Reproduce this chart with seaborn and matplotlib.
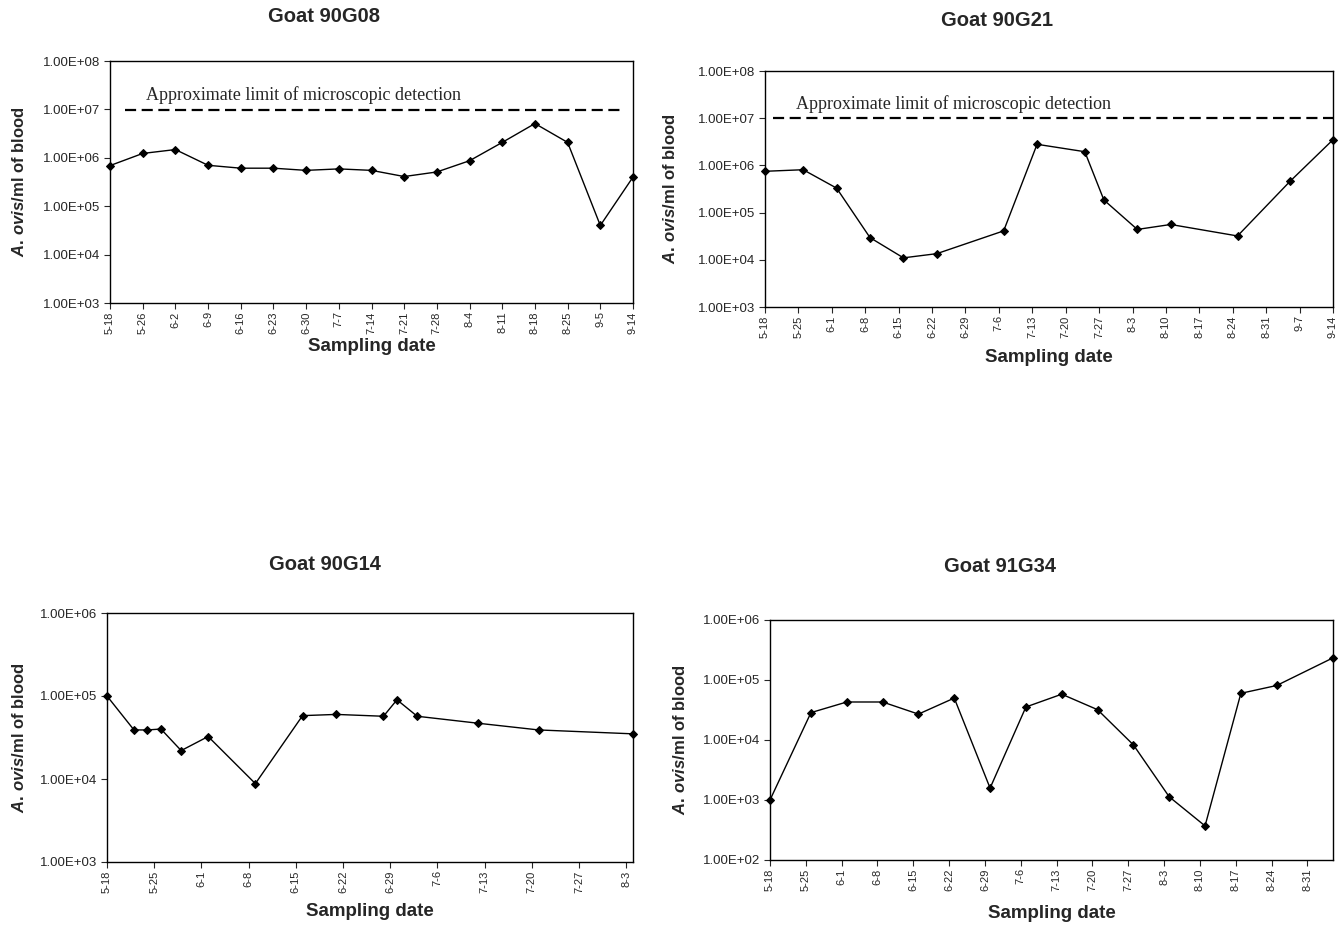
import numpy as np
import pandas as pd
import matplotlib
matplotlib.use("Agg")
import matplotlib.pyplot as plt
from matplotlib.ticker import FuncFormatter, NullLocator
import seaborn as sns

# data
# Goat 90G08 (evenly spaced categories)
g08_dates = ["5-18", "5-26", "6-2", "6-9", "6-16", "6-23", "6-30", "7-7", "7-14",
             "7-21", "7-28", "8-4", "8-11", "8-18", "8-25", "9-5", "9-14"]
g08_vals = [6.9e5, 1.23e6, 1.48e6, 7.0e5, 6.1e5, 6.1e5, 5.5e5, 5.9e5, 5.5e5,
            4.1e5, 5.1e5, 8.7e5, 2.08e6, 5.1e6, 2.08e6, 4.0e4, 4.0e5]

# Goat 90G21 (date axis)
g21_dates = ["5-18", "5-26", "6-2", "6-9", "6-16", "6-23", "7-7", "7-14", "7-24",
             "7-28", "8-4", "8-11", "8-25", "9-5", "9-14"]
g21_vals = [7.5e5, 8.1e5, 3.3e5, 2.95e4, 1.1e4, 1.35e4, 4.1e4, 2.8e6, 1.95e6,
            1.85e5, 4.4e4, 5.6e4, 3.2e4, 4.6e5, 3.5e6]

# Goat 90G14
g14_dates = ["5-18", "5-22", "5-24", "5-26", "5-29", "6-2", "6-9", "6-16", "6-21",
             "6-28", "6-30", "7-3", "7-12", "7-21", "8-4"]
g14_vals = [1.0e5, 3.9e4, 3.9e4, 4.0e4, 2.2e4, 3.25e4, 8.8e3, 5.8e4, 6.0e4,
            5.7e4, 9.0e4, 5.7e4, 4.7e4, 3.9e4, 3.5e4]

# Goat 91G34
g34_dates = ["5-18", "5-26", "6-2", "6-9", "6-16", "6-23", "6-30", "7-7", "7-14",
             "7-21", "7-28", "8-4", "8-11", "8-18", "8-25", "9-5"]
g34_vals = [1.0e3, 2.86e4, 4.3e4, 4.3e4, 2.7e4, 5.0e4, 1.58e3, 3.55e4, 5.8e4,
            3.2e4, 8.3e3, 1.13e3, 3.7e2, 6.0e4, 8.1e4, 2.34e5]

limit_label = "Approximate limit of microscopic detection"
detect_limit = [9.5e6, 1.0e7]


def to_days(dates, year=1990):
    start = pd.Timestamp(f"{year}-05-18")
    return [(pd.Timestamp(f"{year}-{d}") - start).days for d in dates]


def week_labels(n_weeks, year=1990):
    start = pd.Timestamp(f"{year}-05-18")
    ds = [start + pd.Timedelta(days=7 * i) for i in range(n_weeks + 1)]
    return [7 * i for i in range(n_weeks + 1)], [f"{d.month}-{d.day}" for d in ds]


def style_axis(ax, ylim):
    ax.set_yscale("log")
    ax.set_ylim(*ylim)
    lo, hi = int(np.log10(ylim[0])), int(np.log10(ylim[1]))
    ax.set_yticks([10.0 ** k for k in range(lo, hi + 1)])
    ax.yaxis.set_minor_locator(NullLocator())
    ax.yaxis.set_major_formatter(FuncFormatter(lambda v, p: f"{v:.2E}"))
    ax.tick_params(axis="y", labelsize=9.5, length=4, width=0.8, pad=3)
    ax.tick_params(axis="x", labelsize=8, length=4, width=0.8, rotation=90, pad=2)
    for s in ax.spines.values():
        s.set_visible(True)
        s.set_linewidth(1.0)
        s.set_color("black")
    ax.set_xlabel("")
    ax.set_ylabel("")


def draw_line(ax, x, y):
    sns.lineplot(x=x, y=y, ax=ax, color="black", linewidth=1, marker="D",
                 markersize=4.5, markeredgecolor="black", clip_on=False)


sns.set_style("ticks")
plt.rcParams["font.family"] = ["Liberation Sans", "DejaVu Sans"]
plt.rcParams["mathtext.fontset"] = "custom"
plt.rcParams["mathtext.it"] = "Liberation Sans:italic:bold"
plt.rcParams["mathtext.rm"] = "Liberation Sans:bold"

W, H = 1338, 926
fig = plt.figure(figsize=(W / 100, H / 100), dpi=100)


def px_axes(l, r, t, b):
    return fig.add_axes([l / W, 1 - b / H, (r - l) / W, (b - t) / H])


panels = [
    # (bounds, title, title_x, title_y, xlabel_y, ylabel_x)
    ((110, 633, 61, 303), "Goat 90G08", 324, 17, 347, 19),
    ((765, 1333, 71, 307), "Goat 90G21", 997, 20, 357, 670),
    ((107, 633, 613, 862), "Goat 90G14", 325, 565, 912, 19),
    ((770, 1333, 620, 860), "Goat 91G34", 1000, 567, 913, 680),
]

axes = []
for (l, r, t, b), title, tx, ty, xy, yx in panels:
    ax = px_axes(l, r, t, b)
    axes.append(ax)
    fig.text(tx / W, 1 - ty / H, title, ha="center", va="center",
             fontsize=14.5, fontweight="bold")
    fig.text((l + r) / 2 / W, 1 - xy / H, "Sampling date", ha="center",
             va="center", fontsize=13.5, fontweight="bold")
    fig.text(yx / W, 1 - (t + b) / 2 / H, r"$\mathit{A.\,ovis}$/ml of blood",
             rotation=90, ha="center", va="center", fontsize=12,
             fontweight="bold")

# panel 1: category axis
ax = axes[0]
x1 = list(range(len(g08_dates)))
draw_line(ax, x1, g08_vals)
style_axis(ax, (1e3, 1e8))
ax.set_xlim(0, len(g08_dates) - 1)
ax.set_xticks(x1)
ax.set_xticklabels(g08_dates)
ax.plot([0.45, 15.75], [detect_limit[0], detect_limit[0]], color="black",
        linestyle=(0, (5, 2.5)), linewidth=1.6)
ax.text(1.1, 1.55e7, limit_label, family="Liberation Serif", fontsize=13,
        ha="left", va="baseline")

# panel 2: date axis 5-18 .. 9-14
ax = axes[1]
draw_line(ax, to_days(g21_dates), g21_vals)
style_axis(ax, (1e3, 1e8))
ticks, labels = week_labels(17)
ax.set_xlim(0, 119)
ax.set_xticks(ticks)
ax.set_xticklabels(labels)
ax.plot([1.7, 119], [detect_limit[1], detect_limit[1]], color="black",
        linestyle=(0, (5, 2.5)), linewidth=1.6)
ax.text(6.4, 1.55e7, limit_label, family="Liberation Serif", fontsize=13,
        ha="left", va="baseline")

# panel 3
ax = axes[2]
draw_line(ax, to_days(g14_dates), g14_vals)
style_axis(ax, (1e3, 1e6))
ticks, labels = week_labels(11)
ax.set_xlim(0, 78)
ax.set_xticks(ticks)
ax.set_xticklabels(labels)

# panel 4
ax = axes[3]
draw_line(ax, to_days(g34_dates, 1991), g34_vals)
style_axis(ax, (1e2, 1e6))
ticks, labels = week_labels(15, 1991)
ax.set_xlim(0, 110)
ax.set_xticks(ticks)
ax.set_xticklabels(labels)

fig.savefig("out.png", dpi=100)
